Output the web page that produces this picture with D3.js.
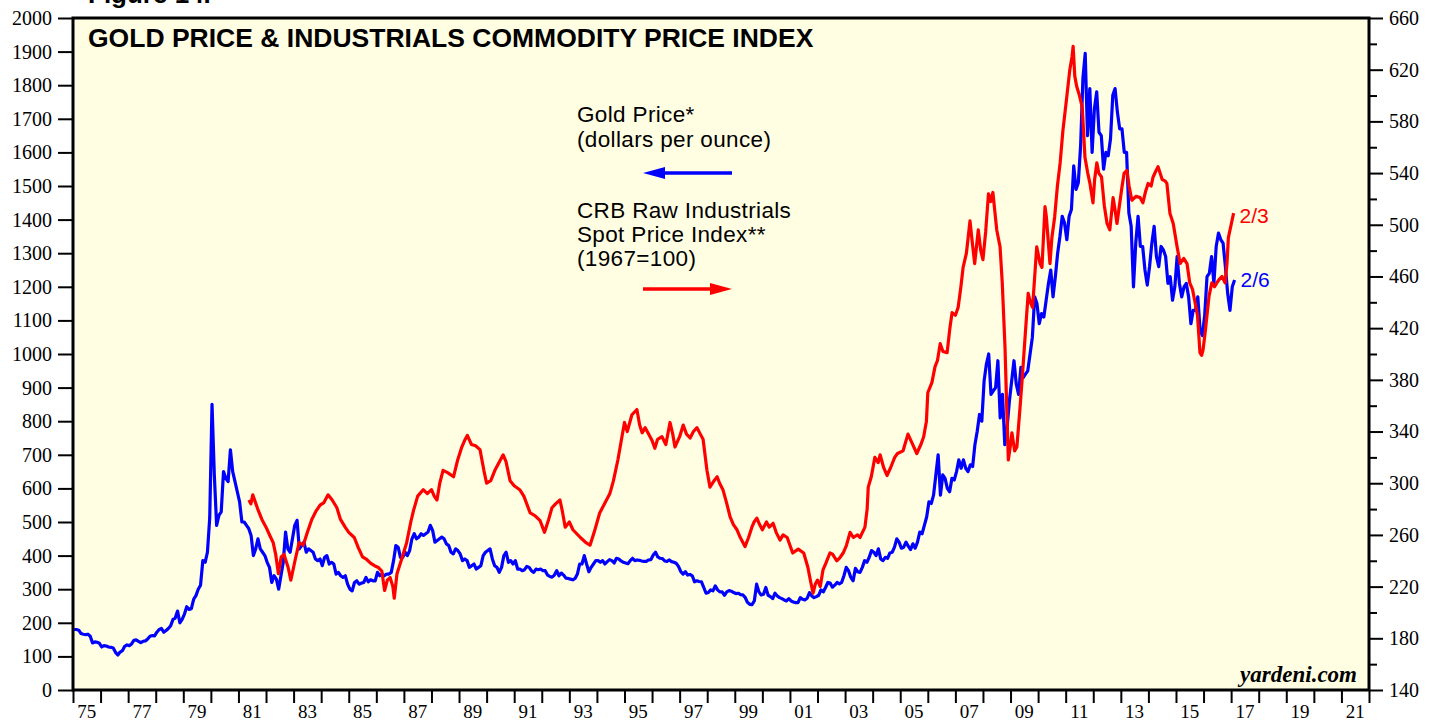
<html>
<head>
<script src="https://d3js.org/d3.v7.min.js"></script>
<style>
	body { margin: 0; background: #fff; }
	.tick text { font-family: "Liberation Serif", "Times New Roman", serif; fill: #000; }
	.tick line { stroke: #000; stroke-width: 2; }
</style>
</head>
<body>
<div id="chart"></div>
<script>
// gold price, dollars per ounce, one value per month from Jan 1975 to Feb 2017
var goldStart = 1975
var goldPrice = [
	180,180,178,168,166,165,166,160,140,143,142,139,
	128,132,131,128,127,125,112,104,113,117,130,134,
	132,137,148,149,145,141,145,146,152,160,162,161,
	172,180,183,172,177,183,191,210,214,235,200,210,
	226,248,240,242,270,281,300,312,385,380,410,512,
	850,640,490,520,530,650,630,620,715,650,620,590,
	560,500,500,490,480,460,400,420,450,420,410,400,
	380,365,320,340,330,300,340,380,470,420,410,450,
	490,505,420,430,440,410,420,415,410,390,385,390,
	370,395,400,375,380,375,345,350,340,335,340,315,
	300,295,320,325,315,318,320,335,322,328,325,325,
	350,340,345,340,345,345,350,385,430,425,395,395,
	410,400,415,450,465,450,455,465,460,465,470,490,
	475,440,445,450,455,450,435,430,410,405,420,415,
	405,385,390,385,365,370,375,360,365,370,400,410,
	415,420,390,370,365,350,365,400,410,380,385,375,
	385,360,360,355,358,368,365,355,350,360,358,360,
	355,355,342,338,336,342,355,340,348,342,333,332,
	330,328,332,345,375,375,400,375,352,365,375,385,
	385,380,385,375,382,388,385,378,392,390,384,380,
	378,376,385,392,385,387,386,384,383,383,387,388,
	402,410,396,392,391,384,383,387,382,380,377,368,
	352,345,352,342,344,340,322,325,323,322,305,288,
	290,298,295,310,298,292,292,282,292,296,294,290,
	287,288,284,283,276,261,255,254,265,315,292,283,
	285,305,282,278,272,288,280,275,272,268,265,272,
	265,262,260,260,275,270,268,273,290,280,275,278,
	282,298,292,305,320,318,306,312,320,316,320,340,
	365,355,335,325,362,352,350,365,385,380,395,415,
	410,400,420,390,385,395,392,408,410,425,450,440,
	422,425,440,428,418,435,422,440,470,465,490,515,
	560,555,580,640,700,580,640,630,600,590,630,625,
	650,685,660,685,660,650,670,665,730,770,820,800,
	920,970,1000,880,890,900,980,810,880,730,780,860,
	920,980,910,880,960,930,940,950,1000,1050,1170,1150,
	1090,1120,1110,1160,1210,1250,1170,1230,1300,1350,1410,1390,
	1340,1410,1430,1560,1490,1510,1620,1820,1895,1650,1790,1600,
	1730,1780,1660,1650,1550,1600,1590,1640,1770,1790,1720,1670,
	1670,1600,1600,1420,1380,1200,1330,1410,1320,1320,1250,1205,
	1260,1330,1380,1290,1260,1320,1310,1290,1210,1230,1160,1200,
	1290,1210,1170,1200,1210,1170,1090,1130,1130,1170,1070,1055,
	1115,1230,1240,1290,1210,1320,1360,1340,1330,1260,1180,1130,
	1200,1220
]

// CRB raw industrials spot price index (1967=100)
var crbYears = [
	1981.38,1981.45,1981.52,1981.7,1981.85,1982.0,1982.15,1982.26,1982.35,1982.45,1982.55,1982.65,1982.8,1982.9,
	1983.05,1983.2,1983.35,1983.5,1983.66,1983.8,1983.96,1984.1,1984.25,1984.4,1984.57,1984.7,1984.87,
	1985.0,1985.2,1985.35,1985.5,1985.65,1985.8,1985.95,1986.06,1986.2,1986.3,1986.4,1986.5,1986.6,1986.65,1986.75,1986.9,
	1987.1,1987.25,1987.35,1987.5,1987.7,1987.85,1988.0,1988.1,1988.2,1988.3,1988.42,1988.6,1988.8,1988.95,
	1989.1,1989.2,1989.3,1989.45,1989.6,1989.76,1989.9,1990.0,1990.15,1990.3,1990.45,1990.6,1990.7,1990.85,
	1991.0,1991.2,1991.35,1991.58,1991.75,1991.94,1992.1,1992.25,1992.37,1992.5,1992.66,1992.75,1992.85,
	1993.0,1993.13,1993.4,1993.6,1993.75,1993.9,1994.1,1994.3,1994.47,1994.6,1994.76,1994.9,
	1995.0,1995.1,1995.27,1995.45,1995.55,1995.64,1995.75,1995.85,1996.0,1996.1,1996.2,1996.36,1996.5,1996.65,1996.75,1996.83,
	1997.0,1997.13,1997.25,1997.38,1997.5,1997.63,1997.75,1997.85,1997.99,1998.1,1998.25,1998.36,1998.45,1998.57,1998.7,1998.83,1998.95,
	1999.08,1999.2,1999.37,1999.5,1999.62,1999.7,1999.8,1999.9,2000.0,2000.15,2000.25,2000.39,2000.5,2000.64,2000.75,2000.9,
	2001.0,2001.1,2001.3,2001.5,2001.65,2001.75,2001.84,2001.92,2002.0,2002.1,2002.2,2002.3,2002.45,2002.55,2002.7,2002.8,2002.93,
	2003.05,2003.18,2003.3,2003.45,2003.54,2003.72,2003.8,2003.84,2003.95,2004.08,2004.2,2004.27,2004.4,2004.52,2004.65,2004.8,2004.9,
	2005.1,2005.28,2005.45,2005.6,2005.75,2005.85,2005.95,2006.0,2006.15,2006.26,2006.35,2006.45,2006.55,2006.7,2006.8,2006.88,
	2007.0,2007.1,2007.2,2007.28,2007.4,2007.53,2007.62,2007.7,2007.83,2007.92,2008.0,2008.1,2008.2,2008.28,2008.36,2008.5,2008.62,2008.7,2008.8,2008.86,2008.92,
	2009.0,2009.05,2009.15,2009.23,2009.35,2009.42,2009.55,2009.64,2009.72,2009.8,2009.95,2010.07,2010.14,2010.25,2010.3,2010.43,2010.5,2010.6,2010.7,2010.8,2010.9,
	2011.04,2011.15,2011.23,2011.27,2011.33,2011.4,2011.5,2011.6,2011.7,2011.8,2011.88,2011.99,2012.05,2012.13,2012.2,2012.3,2012.4,2012.5,2012.6,2012.72,2012.8,2012.86,
	2013.04,2013.12,2013.22,2013.3,2013.4,2013.55,2013.7,2013.8,2013.9,2013.99,2014.1,2014.17,2014.28,2014.35,2014.5,2014.6,2014.67,2014.78,2014.9,
	2015.04,2015.15,2015.28,2015.4,2015.5,2015.6,2015.69,2015.78,2015.87,2015.93,2015.98,2016.05,2016.12,2016.2,2016.3,2016.4,2016.48,2016.58,2016.67,2016.78,2016.85,2016.9,
	2017.0,2017.09
]
var crbValues = [
	287,284,291,280,272,266,259,254,245,230,243,245,235,225,
	240,254,252,262,272,278,283,285,291,287,281,272,266,
	262,258,250,243,241,238,236,235,232,217,225,227,220,211,230,240,
	254,270,279,290,295,292,295,290,287,300,310,308,305,318,
	328,333,337,330,329,326,310,300,302,310,316,322,317,302,
	298,295,290,277,275,271,262,272,281,284,287,278,266,
	270,264,258,254,252,262,277,285,292,302,318,335,
	347,340,353,357,345,339,343,339,333,327,334,336,330,347,338,328,
	336,345,338,335,340,343,338,334,310,297,302,305,300,295,285,274,268,
	264,258,251,258,266,270,273,268,264,270,266,269,262,256,260,258,
	252,246,249,246,235,224,215,222,225,220,233,238,246,245,240,242,246,
	252,262,258,260,258,266,280,297,305,320,316,322,312,306,312,320,323,
	325,338,330,323,330,336,348,370,378,390,395,408,402,401,420,432,
	430,436,452,467,478,503,485,470,496,480,473,495,524,518,525,496,483,455,405,360,318,
	330,339,325,328,360,380,420,447,440,436,483,470,467,514,506,470,490,506,530,548,573,
	599,620,630,638,615,607,600,591,552,540,532,517,535,548,540,537,515,501,496,521,510,501,
	529,540,542,530,519,522,521,517,526,532,530,537,542,545,535,534,532,509,501,
	483,470,474,470,455,450,440,430,401,399,403,415,429,445,455,452,455,458,460,455,470,490,
	500,509
]

var leftTicks = d3.range(0, 2001, 100)
var rightTicks = d3.range(140, 661, 40)
var rightMinorTicks = d3.range(160, 660, 40)
var yearTicks = d3.range(1975, 2023)
var yearLabels = ["75","77","79","81","83","85","87","89","91","93","95","97","99","01","03","05","07","09","11","13","15","17","19","21"]

var width = 1439, height = 721
var plot = { left: 73, top: 18, right: 1369, bottom: 690 }

var svg = d3.select("#chart").append("svg")
	.attr("width", width)
	.attr("height", height)

var x = d3.scaleLinear().domain([1975, 2022]).range([plot.left, plot.right])
var yL = d3.scaleLinear().domain([0, 2000]).range([plot.bottom, plot.top])
var yR = d3.scaleLinear().domain([140, 660]).range([plot.bottom, plot.top])

svg.append("rect")
	.attr("x", plot.left).attr("y", plot.top)
	.attr("width", plot.right - plot.left).attr("height", plot.bottom - plot.top)
	.style("fill", "#FFFEE3")

svg.append("clipPath").attr("id", "clip")
	.append("rect")
	.attr("x", plot.left).attr("y", plot.top)
	.attr("width", plot.right - plot.left).attr("height", plot.bottom - plot.top)

// title bits (the figure number is cut by the top edge, as in the original)
svg.append("text")
	.attr("x", 88).attr("y", 3)
	.style("font-family", "'Liberation Sans', Arial, sans-serif")
	.style("font-weight", "bold").style("font-size", "26px")
	.text("Figure 14.")

svg.append("text")
	.attr("x", 88).attr("y", 47)
	.style("font-family", "'Liberation Sans', Arial, sans-serif")
	.style("font-weight", "bold").style("font-size", "26.5px")
	.text("GOLD PRICE & INDUSTRIALS COMMODITY PRICE INDEX")

// lines
var goldData = goldPrice.map(function(v, i){ return { t: goldStart + (i + 0.5) / 12, v: v } })
var crbData = crbYears.map(function(t, i){ return { t: t, v: crbValues[i] } })

var lines = svg.append("g").attr("clip-path", "url(#clip)")

lines.append("path")
	.datum(goldData)
	.attr("d", d3.line().x(function(d){ return x(d.t) }).y(function(d){ return yL(d.v) }))
	.style("fill", "none").style("stroke", "#0000FF").style("stroke-width", 3.2)
	.style("stroke-linejoin", "round")

lines.append("path")
	.datum(crbData)
	.attr("d", d3.line().x(function(d){ return x(d.t) }).y(function(d){ return yR(d.v) }))
	.style("fill", "none").style("stroke", "#FF0000").style("stroke-width", 3.2)
	.style("stroke-linejoin", "round")

// axes
var leftAxis = svg.append("g")
	.attr("transform", "translate(" + plot.left + ",0)")
	.call(d3.axisLeft(yL).tickValues(leftTicks).tickSize(15).tickPadding(6).tickFormat(d3.format("d")))
leftAxis.select(".domain").remove()
leftAxis.selectAll("text").style("font-size", "20px")

var rightMinor = svg.append("g")
	.attr("transform", "translate(" + plot.right + ",0)")
	.call(d3.axisRight(yR).tickValues(rightMinorTicks).tickSize(8).tickFormat(""))
rightMinor.select(".domain").remove()

var rightAxis = svg.append("g")
	.attr("transform", "translate(" + plot.right + ",0)")
	.call(d3.axisRight(yR).tickValues(rightTicks).tickSize(14).tickPadding(6).tickFormat(d3.format("d")))
rightAxis.select(".domain").remove()
rightAxis.selectAll("text").style("font-size", "20px")

var bottomAxis = svg.append("g")
	.attr("transform", "translate(0," + plot.bottom + ")")
	.call(d3.axisBottom(x).tickValues(yearTicks).tickSize(13).tickFormat(""))
bottomAxis.select(".domain").remove()

svg.append("g").selectAll("text")
	.data(yearLabels)
	.enter().append("text")
	.attr("x", function(d, i){ return x(1975 + 2 * i + 0.5) })
	.attr("y", 718)
	.attr("text-anchor", "middle")
	.style("font-family", "'Liberation Serif', 'Times New Roman', serif")
	.style("font-size", "19px")
	.text(function(d){ return d })

// frame
svg.append("rect")
	.attr("x", plot.left).attr("y", plot.top)
	.attr("width", plot.right - plot.left).attr("height", plot.bottom - plot.top)
	.style("fill", "none").style("stroke", "#000").style("stroke-width", 3)

// legend
var legend = svg.append("g")
	.style("font-family", "'Liberation Sans', Arial, sans-serif")
	.style("font-size", "22.5px")
	.style("letter-spacing", "0.35px")
var legendLines = [
	["Gold Price*", 122], ["(dollars per ounce)", 147],
	["CRB Raw Industrials", 218], ["Spot Price Index**", 242], ["(1967=100)", 266]
]
legend.selectAll("text").data(legendLines).enter().append("text")
	.attr("x", 577).attr("y", function(d){ return d[1] })
	.text(function(d){ return d[0] })

function arrow(x1, x2, y, color){
	var dir = x2 > x1 ? 1 : -1
	svg.append("line")
		.attr("x1", x1).attr("x2", x2 - dir * 14).attr("y1", y).attr("y2", y)
		.style("stroke", color).style("stroke-width", 3.5)
	svg.append("path")
		.attr("d", "M" + x2 + "," + y + " L" + (x2 - dir * 22) + "," + (y - 6) + " L" + (x2 - dir * 22) + "," + (y + 6) + " Z")
		.style("fill", color)
}
arrow(732, 643, 173, "#0000FF")
arrow(643, 732, 289, "#FF0000")

// end labels
var lastGold = goldData[goldData.length - 1]
var lastCrb = crbData[crbData.length - 1]
svg.append("text")
	.attr("x", x(lastCrb.t) + 6).attr("y", yR(lastCrb.v) + 10)
	.style("font-family", "'Liberation Sans', Arial, sans-serif").style("font-size", "21px")
	.style("fill", "#FF0000")
	.text("2/3")
svg.append("text")
	.attr("x", x(lastGold.t) + 6).attr("y", yL(lastGold.v) + 7)
	.style("font-family", "'Liberation Sans', Arial, sans-serif").style("font-size", "21px")
	.style("fill", "#0000FF")
	.text("2/6")

svg.append("text")
	.attr("x", 1357).attr("y", 682)
	.attr("text-anchor", "end")
	.style("font-family", "'Liberation Serif', 'Times New Roman', serif")
	.style("font-weight", "bold").style("font-style", "italic").style("font-size", "23px")
	.text("yardeni.com")
</script>
</body>
</html>
